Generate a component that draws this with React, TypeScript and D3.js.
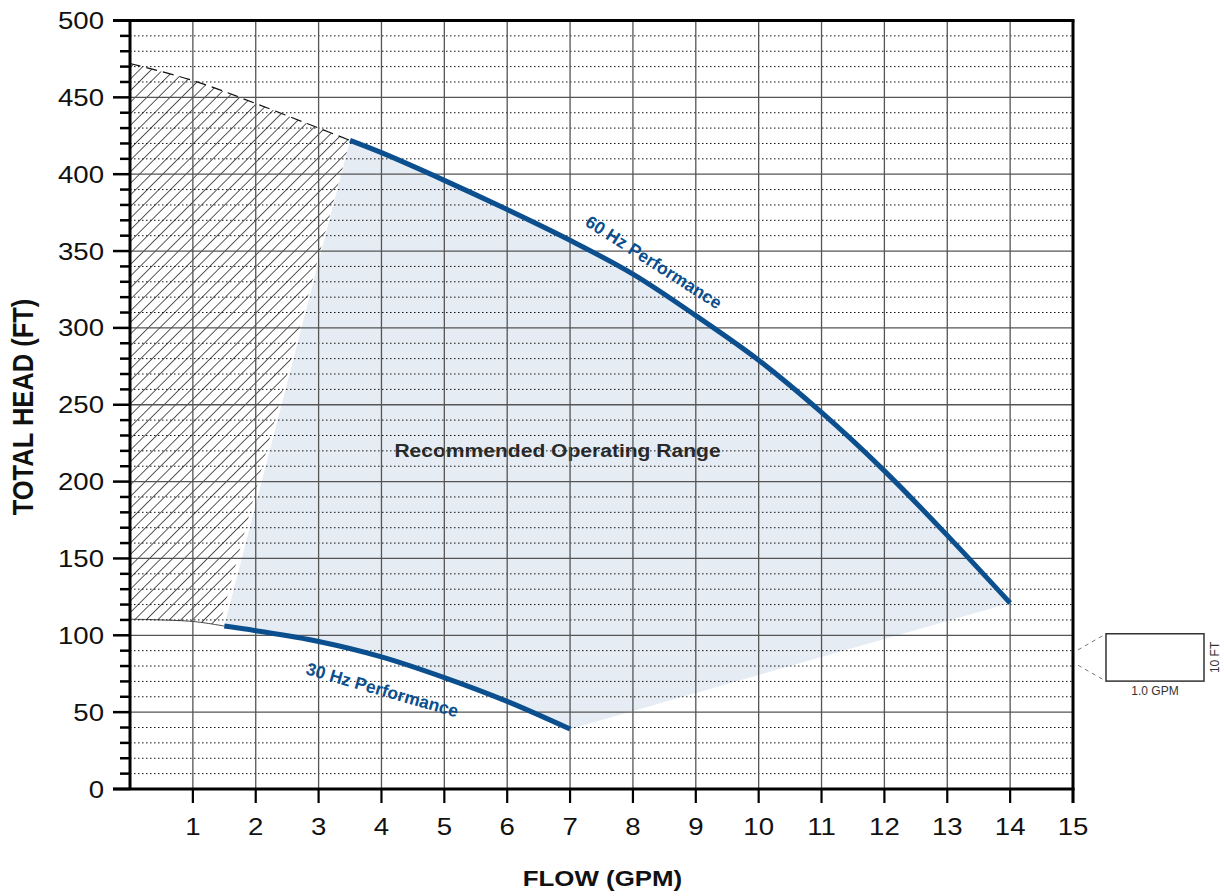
import React from "react";
import * as d3 from "d3";

// 60 Hz performance curve
const flow60 = [3.5, 4, 5, 6, 7, 8, 9, 10, 11, 12, 13, 14];
const head60 = [422, 414, 396, 377, 357, 335, 308, 279, 245, 207, 165, 121];
// 30 Hz performance curve
const flow30 = [1.5, 2, 3, 4, 5, 6, 7];
const head30 = [106, 103, 96, 86, 72.5, 57, 39];
// hatched (not recommended) region boundaries
const hatchTopFlow = [0, 1, 2, 3, 3.5];
const hatchTopHead = [472, 461, 446, 430, 422];
const hatchBottomFlow = [0, 1, 1.5];
const hatchBottomHead = [110.5, 109, 106];

const xTicks = [1, 2, 3, 4, 5, 6, 7, 8, 9, 10, 11, 12, 13, 14, 15];
const yTicks = [0, 50, 100, 150, 200, 250, 300, 350, 400, 450, 500];
const yMinor = d3.range(10, 500, 10).filter((v) => v % 50 !== 0);

const BLUE = "#0b4f8e";
const FONT = "'Liberation Sans', Arial, Helvetica, sans-serif";
const SX = 1.15;

export default function App() {
  const x = d3.scaleLinear().domain([0, 15]).range([130, 1073]);
  const y = d3.scaleLinear().domain([0, 500]).range([789, 20.5]);
  const line = d3
    .line<[number, number]>()
    .x((d) => x(d[0]))
    .y((d) => y(d[1]))
    .curve(d3.curveCatmullRom.alpha(0.5));

  const p60 = flow60.map((f, i) => [f, head60[i]] as [number, number]);
  const p30 = flow30.map((f, i) => [f, head30[i]] as [number, number]);
  const pTop = hatchTopFlow.map((f, i) => [f, hatchTopHead[i]] as [number, number]);
  const pBot = hatchBottomFlow.map((f, i) => [f, hatchBottomHead[i]] as [number, number]);

  // shaded operating region: 60Hz curve, straight line to 30Hz end, 30Hz curve back, close
  const p30rev = p30.slice().reverse();
  const shadePath =
    line(p60)! +
    "L" + x(p30rev[0][0]) + "," + y(p30rev[0][1]) +
    line(p30rev)!.replace(/^M/, "L") +
    "Z";

  // hatch clip region
  const off = -5;
  const hatchPath =
    line(pTop)! +
    "L" + (x(pBot[pBot.length - 1][0]) + off) + "," + y(pBot[pBot.length - 1][1]) +
    line(pBot.slice().reverse())!.replace(/^M/, "L") +
    "Z";

  const x0 = x(0), x1 = x(15), yTop = y(500), yBot = y(0);

  // inset scale box
  const bx0 = x1 + 33, bx1 = bx0 + 98;
  const by0 = y(101), by1 = y(70.2);

  return (
    <svg
      width={1224}
      height={896}
      style={{ position: "absolute", left: 0, top: 0, background: "#fff" }}
      fontFamily={FONT}
    >
      <defs>
        <pattern
          id="hatch"
          patternUnits="userSpaceOnUse"
          width={8.2}
          height={8.2}
          patternTransform="rotate(45)"
        >
          <line x1={0} y1={0} x2={0} y2={8.2} stroke="#000" strokeWidth={1.3} />
        </pattern>
        <clipPath id="hclip">
          <path d={hatchPath} />
        </clipPath>
      </defs>

      {/* shaded region */}
      <path d={shadePath} fill="#e5ecf3" stroke="none" />
      {/* hatch */}
      <rect
        x={x0}
        y={yTop}
        width={x(4) - x0}
        height={yBot - yTop}
        fill="url(#hatch)"
        clipPath="url(#hclip)"
      />
      <path d={line(pTop)!} fill="none" stroke="#111" strokeWidth={1.2} strokeDasharray="11,6" />
      <path d={line(pBot)!} fill="none" stroke="#444" strokeWidth={1} />

      {/* region label (under grid) */}
      <text
        transform={`translate(${x(6.8)},${y(216)}) scale(${SX},1)`}
        textAnchor="middle"
        fontSize={18.3}
        fontWeight="bold"
        fill="#2a2a2a"
      >
        Recommended Operating Range
      </text>

      {/* minor grid */}
      {yMinor.map((v) => (
        <line
          key={"m" + v}
          x1={x0}
          x2={x1}
          y1={y(v)}
          y2={y(v)}
          stroke="#111"
          strokeWidth={1}
          strokeDasharray="1.5,2.5"
        />
      ))}
      {/* major horizontal grid */}
      {yTicks.slice(1, -1).map((v) => (
        <line key={"h" + v} x1={x0} x2={x1} y1={y(v)} y2={y(v)} stroke="#555" strokeWidth={1.3} />
      ))}
      {/* vertical grid */}
      {xTicks.slice(0, -1).map((v) => (
        <line key={"v" + v} x1={x(v)} x2={x(v)} y1={yTop} y2={yBot} stroke="#555" strokeWidth={1.3} />
      ))}

      {/* frame */}
      <line x1={x0 - 17} x2={x1 + 1.5} y1={yTop} y2={yTop} stroke="#000" strokeWidth={3} />
      <line x1={x0 - 17} x2={x1 + 1.5} y1={yBot} y2={yBot} stroke="#000" strokeWidth={3} />
      <line x1={x0} x2={x0} y1={yTop} y2={yBot} stroke="#000" strokeWidth={3} />
      <line x1={x1} x2={x1} y1={yTop} y2={yBot + 14} stroke="#000" strokeWidth={3} />

      {/* y ticks */}
      {yTicks.map((v) => (
        <line key={"yt" + v} x1={x0 - 17} x2={x0} y1={y(v)} y2={y(v)} stroke="#000" strokeWidth={2.5} />
      ))}
      {yMinor.map((v) => (
        <line key={"ymt" + v} x1={x0 - 10} x2={x0} y1={y(v)} y2={y(v)} stroke="#000" strokeWidth={2.5} />
      ))}
      {/* x ticks */}
      {xTicks.map((v) => (
        <line key={"xt" + v} x1={x(v)} x2={x(v)} y1={yBot} y2={yBot + 14} stroke="#000" strokeWidth={2.2} />
      ))}

      {/* y tick labels */}
      {yTicks.map((v) => (
        <text
          key={"yl" + v}
          transform={`translate(${x0 - 26},${y(v) + 8.5}) scale(${SX},1)`}
          textAnchor="end"
          fontSize={24}
          fill="#111"
        >
          {v}
        </text>
      ))}
      {/* x tick labels */}
      {xTicks.map((v) => (
        <text
          key={"xl" + v}
          transform={`translate(${x(v)},${yBot + 46}) scale(${SX},1)`}
          textAnchor="middle"
          fontSize={24}
          fill="#111"
        >
          {v}
        </text>
      ))}

      {/* curves */}
      <path d={line(p60)!} fill="none" stroke={BLUE} strokeWidth={5} />
      <path d={line(p30)!} fill="none" stroke={BLUE} strokeWidth={5} />

      {/* curve labels */}
      <text
        transform={`translate(584,225) rotate(32.5)`}
        fontSize={17.5}
        fontWeight="bold"
        fill={BLUE}
      >
        60 Hz Performance
      </text>
      <text
        transform={`translate(305,674) rotate(16)`}
        fontSize={17.5}
        fontWeight="bold"
        fill={BLUE}
      >
        30 Hz Performance
      </text>

      {/* axis titles */}
      <text
        transform={`translate(33,407) rotate(-90) scale(1,${SX})`}
        textAnchor="middle"
        fontSize={25.5}
        fontWeight="bold"
        fill="#111"
      >
        TOTAL HEAD (FT)
      </text>
      <text
        transform={`translate(${(x0 + x1) / 2 + 1},886) scale(${SX},1)`}
        textAnchor="middle"
        fontSize={22.5}
        fontWeight="bold"
        fill="#111"
      >
        FLOW (GPM)
      </text>

      {/* inset scale box */}
      <line x1={x1 + 5} y1={y(90.5)} x2={bx0} y2={by0} stroke="#777" strokeWidth={1} strokeDasharray="4,4" />
      <line x1={x1 + 5} y1={y(80.5)} x2={bx0} y2={by1} stroke="#777" strokeWidth={1} strokeDasharray="4,4" />
      <rect x={bx0} y={by0} width={bx1 - bx0} height={by1 - by0} fill="none" stroke="#333" strokeWidth={1.5} />
      <text x={(bx0 + bx1) / 2} y={by1 + 14} textAnchor="middle" fontSize={12} fill="#333">
        1.0 GPM
      </text>
      <text
        transform={`translate(${bx1 + 15},${(by0 + by1) / 2}) rotate(-90)`}
        textAnchor="middle"
        fontSize={12}
        fill="#333"
      >
        10 FT
      </text>
    </svg>
  );
}
